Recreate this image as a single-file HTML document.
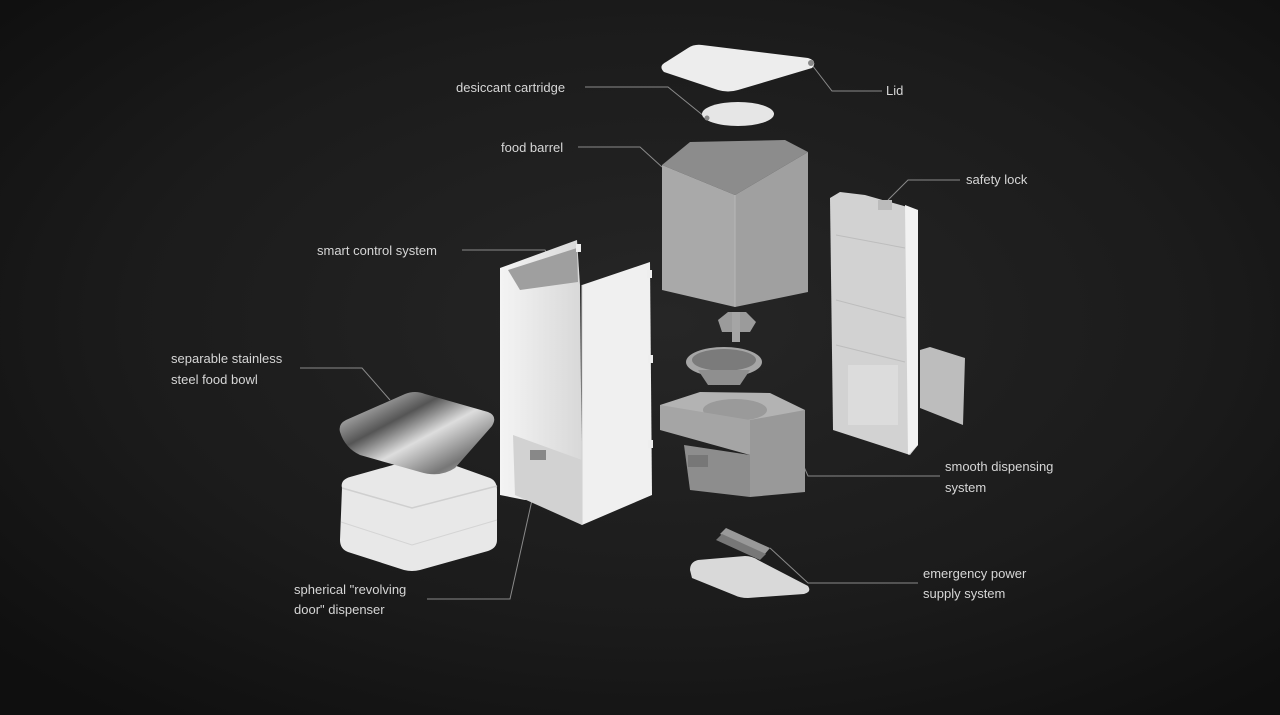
<!DOCTYPE html>
<html><head><meta charset="utf-8"><style>
html,body{margin:0;padding:0;background:#141414;}
svg{display:block;}
text{font-family:"Liberation Sans","DejaVu Sans",sans-serif;font-size:13px;fill:#d6d6d6;}
</style></head><body>
<svg width="1280" height="715" viewBox="0 0 1280 715" xmlns="http://www.w3.org/2000/svg">
<defs>
<radialGradient id="bg" cx="0.52" cy="0.45" r="0.7">
<stop offset="0" stop-color="#262626"/><stop offset="0.6" stop-color="#1b1b1b"/><stop offset="1" stop-color="#0f0f0f"/>
</radialGradient>
<linearGradient id="bowl" x1="0" y1="0" x2="1" y2="1">
<stop offset="0" stop-color="#eee"/><stop offset="0.35" stop-color="#555"/><stop offset="0.55" stop-color="#ddd"/><stop offset="0.8" stop-color="#777"/><stop offset="1" stop-color="#ccc"/>
</linearGradient>
<linearGradient id="wh" x1="0" y1="0" x2="1" y2="0">
<stop offset="0" stop-color="#f4f4f4"/><stop offset="1" stop-color="#d8d8d8"/>
</linearGradient>
</defs>
<rect width="1280" height="715" fill="url(#bg)"/>

<g stroke="#8a8a8a" stroke-width="1" fill="none">
<polyline points="585,87 668,87 705,117"/>
<polyline points="882,91 832,91 812,65"/>
<polyline points="578,147 640,147 662,167"/>
<polyline points="960,180 908,180 888,200"/>
<polyline points="462,250 545,250 568,290"/>
<polyline points="300,368 362,368 390,400"/>
<polyline points="940,476 808,476 790,435"/>
<polyline points="918,583 808,583 770,548"/>
<polyline points="427,599 510,599 532,500"/>
</g>

<!-- lid -->
<path d="M664,72 Q658,66 666,62 L688,48 Q694,44 702,45 L808,58 Q818,61 812,68 L738,90 Q728,93 718,90 Z" fill="#ededed"/>
<circle cx="811" cy="63" r="3" fill="#888"/>
<!-- cartridge -->
<ellipse cx="738" cy="114" rx="36" ry="12" fill="#e6e6e6"/>
<circle cx="707" cy="118" r="2.5" fill="#888"/>

<!-- food barrel -->
<polygon points="662,165 690,142 785,140 808,152 735,195" fill="#8c8c8c"/>
<polygon points="662,165 735,195 735,307 662,290" fill="#a9a9a9"/>
<polygon points="735,195 808,152 808,292 735,307" fill="#a0a0a0"/>
<line x1="735" y1="195" x2="735" y2="307" stroke="#b8b8b8"/>

<!-- safety lock panel -->
<polygon points="830,198 840,192 865,195 918,210 918,445 910,455 833,430" fill="#d2d2d2"/>
<polygon points="905,205 918,210 918,445 908,455" fill="#f2f2f2"/>
<g stroke="#bdbdbd" fill="none"><line x1="836" y1="235" x2="905" y2="248"/><line x1="836" y1="300" x2="905" y2="318"/><line x1="836" y1="345" x2="905" y2="362"/></g>
<rect x="878" y="200" width="14" height="10" fill="#bbb"/>
<rect x="848" y="365" width="50" height="60" fill="#dcdcdc"/>
<polygon points="920,350 930,347 965,358 963,425 958,423 920,408" fill="#bdbdbd"/>

<!-- dispenser parts -->
<polygon points="718,320 728,312 746,312 756,322 750,332 722,332" fill="#9b9b9b"/>
<rect x="732" y="312" width="8" height="30" fill="#a5a5a5"/>
<ellipse cx="724" cy="362" rx="38" ry="15" fill="#a6a6a6"/>
<ellipse cx="724" cy="360" rx="32" ry="11" fill="#7b7b7b"/>
<polygon points="698,370 750,370 740,385 708,385" fill="#8f8f8f"/>
<polygon points="660,405 700,392 770,393 805,410 805,415 790,430 660,430" fill="#b3b3b3"/>
<ellipse cx="735" cy="410" rx="32" ry="11" fill="#9a9a9a"/>
<polygon points="660,405 660,430 750,455 750,420" fill="#a5a5a5"/>
<polygon points="750,420 805,410 805,492 750,497" fill="#999"/>
<polygon points="684,445 750,455 750,497 690,490" fill="#8d8d8d"/>
<rect x="688" y="455" width="20" height="12" fill="#777"/>

<!-- batteries & plate -->
<polygon points="720,534 726,528 770,548 764,555" fill="#999"/>
<polygon points="716,540 722,534 766,554 760,560" fill="#777"/>
<path d="M690,570 Q690,562 698,560 L745,556 Q752,556 758,560 L808,586 Q812,592 804,594 L748,598 Q740,598 734,595 L692,578Z" fill="#d9d9d9"/>

<!-- smart control white housing -->
<polygon points="500,268 577,240 580,285 582,495 525,500 500,495" fill="url(#wh)"/>
<polygon points="508,270 577,248 578,282 520,290" fill="#9f9f9f"/>
<polygon points="582,285 650,262 652,495 582,525" fill="#f0f0f0"/>
<line x1="582" y1="285" x2="582" y2="525" stroke="#d0d0d0"/>
<polygon points="513,435 582,460 582,525 515,495" fill="#d2d2d2"/>
<rect x="530" y="450" width="16" height="10" fill="#888"/>
<g fill="#eee"><rect x="647" y="270" width="5" height="8"/><rect x="648" y="355" width="5" height="8"/><rect x="648" y="440" width="5" height="8"/><rect x="576" y="244" width="5" height="8"/></g>

<!-- base box -->
<path d="M342,488 Q340,480 350,477 L418,458 Q426,456 434,458 L490,478 Q497,481 497,490 L497,540 Q497,548 488,551 L420,570 Q412,572 404,570 L348,552 Q340,549 340,540 Z" fill="#e8e8e8"/>
<path d="M342,488 L412,508 L497,486" fill="none" stroke="#cfcfcf" stroke-width="1.5"/>
<path d="M341,522 L412,545 L497,520" fill="none" stroke="#d4d4d4" stroke-width="1"/>
<!-- bowl -->
<path d="M340,432 Q338,424 346,420 L405,394 Q415,390 425,394 L488,412 Q498,416 492,426 L455,468 Q440,478 420,472 L360,455 Q345,448 340,432Z" fill="url(#bowl)"/>

<text x="456" y="92">desiccant cartridge</text>
<text x="886" y="95">Lid</text>
<text x="501" y="152">food barrel</text>
<text x="966" y="184">safety lock</text>
<text x="317" y="255">smart control system</text>
<text x="171" y="363">separable stainless</text>
<text x="171" y="384">steel food bowl</text>
<text x="945" y="471">smooth dispensing</text>
<text x="945" y="492">system</text>
<text x="923" y="578">emergency power</text>
<text x="923" y="598">supply system</text>
<text x="294" y="594">spherical "revolving</text>
<text x="294" y="614">door" dispenser</text>
</svg>
</body></html>
